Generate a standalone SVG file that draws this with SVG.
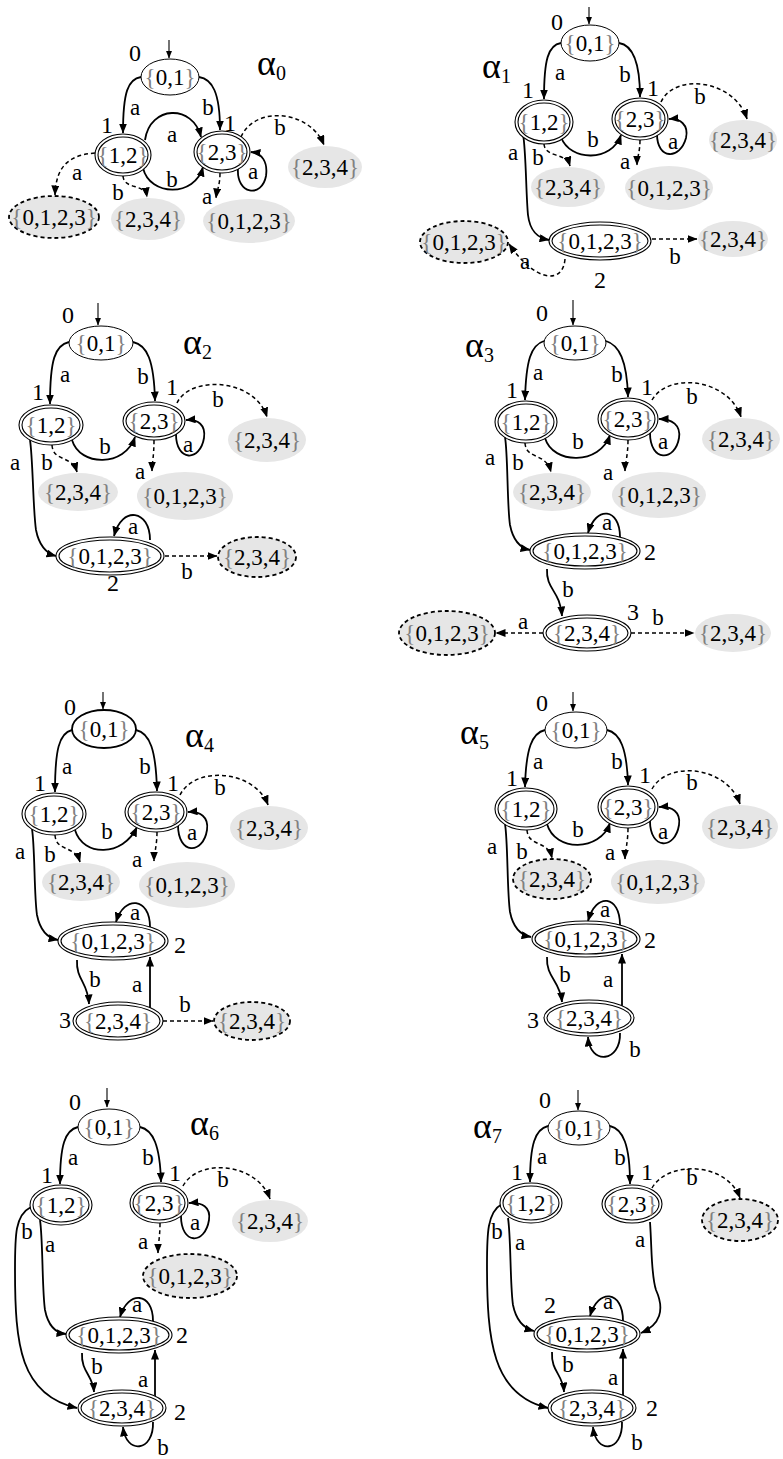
<svg xmlns="http://www.w3.org/2000/svg" width="783" height="1459" viewBox="0 0 783 1459">
<defs>
<marker id="ah" viewBox="0 0 10 8" refX="9.5" refY="4" markerWidth="10" markerHeight="8" orient="auto" markerUnits="userSpaceOnUse"><path d="M0,0 L10,4 L0,8 z" fill="#000"/></marker>
<marker id="sh" viewBox="0 0 10 8" refX="9.5" refY="4" markerWidth="8" markerHeight="6" orient="auto" markerUnits="userSpaceOnUse"><path d="M0,0 L10,4 L0,8 z" fill="#000"/></marker>
</defs>
<style>
.s{fill:#fff;stroke:#000;stroke-width:1}
.o{fill:#fff;stroke:#000;stroke-width:1.1}
.i{fill:none;stroke:#000;stroke-width:1.1}
.g{fill:#e6e6e6}
.gd{fill:#e6e6e6;stroke:#000;stroke-width:1.8;stroke-dasharray:4 3}
.e{fill:none;stroke:#000;stroke-width:1.8;marker-end:url(#ah)}
.st{fill:none;stroke:#000;stroke-width:1.1;marker-end:url(#sh)}
.d{fill:none;stroke:#000;stroke-width:1.5;stroke-dasharray:4 3;marker-end:url(#ah)}
text{font-family:"Liberation Serif","Times New Roman",serif;font-size:23px;text-anchor:middle;fill:#000}
.nl{font-size:23px}
.num{font-size:24px}
.br{fill:#808080}
.al{font-size:36px;text-anchor:start}
.sub{font-size:20px}
</style>
<rect width="783" height="1459" fill="#fff"/>

<!-- ===== alpha0 ===== -->
<g id="p0">
<g id="p0-edges">
<path class="st" d="M169,40 L169,58"/>
<path class="e" d="M141,77 C128,79 123,92 123,133"/>
<path class="e" d="M199,77 C212,79 220,92 220,130"/>
<path class="e" d="M145,140 C150,105 193,104 201,137"/>
<path class="e" d="M143,168 C150,197 195,197 203,167"/>
<path class="e" d="M238,168 C236,195 262,198 266,176 C268,162 262,153 251,152"/>
<path class="d" d="M241,137 C255,105 310,110 324,145"/>
<path class="d" d="M95,153 C70,155 56,165 55,195"/>
<path class="d" d="M123,176 C124,190 145,183 147,197"/>
<path class="d" d="M220,173 C220,185 217,190 216,198"/>
<text x="135" y="115">a</text><text x="208" y="115">b</text>
<text x="172" y="142">a</text><text x="172" y="187">b</text>
<text x="253" y="179">a</text><text x="280" y="135">b</text>
<text x="77" y="180">a</text><text x="118" y="200">b</text><text x="207" y="204">a</text>
</g>
<text class="num" x="135" y="61">0</text><text class="num" x="107" y="133">1</text><text class="num" x="230" y="131">1</text>
<text class="al" x="257" y="75">α<tspan class="sub" dy="5">0</tspan></text>
<g id="p0-n01"><ellipse class="s" cx="170" cy="77" rx="29" ry="18"/><text class="nl" x="170" y="85"><tspan class="br">{</tspan>0,1<tspan class="br">}</tspan></text></g>
<g id="p0-n12"><ellipse class="o" cx="123" cy="155" rx="28" ry="21"/><ellipse class="i" cx="123" cy="155" rx="25" ry="18"/><text class="nl" x="123" y="163"><tspan class="br">{</tspan>1,2<tspan class="br">}</tspan></text></g>
<g id="p0-n23"><ellipse class="o" cx="222" cy="152" rx="28" ry="21"/><ellipse class="i" cx="222" cy="152" rx="25" ry="18"/><text class="nl" x="222" y="160"><tspan class="br">{</tspan>2,3<tspan class="br">}</tspan></text></g>
<g id="p0-g234a"><ellipse class="g" cx="325" cy="167" rx="37" ry="21"/><text class="nl" x="325" y="175"><tspan class="br">{</tspan>2,3,4<tspan class="br">}</tspan></text></g>
<g id="p0-d0123"><ellipse class="gd" cx="54" cy="217" rx="45" ry="21"/><text class="nl" x="54" y="225"><tspan class="br">{</tspan>0,1,2,3<tspan class="br">}</tspan></text></g>
<g id="p0-g234b"><ellipse class="g" cx="148" cy="219" rx="37" ry="21"/><text class="nl" x="148" y="227"><tspan class="br">{</tspan>2,3,4<tspan class="br">}</tspan></text></g>
<g id="p0-g0123"><ellipse class="g" cx="249" cy="221" rx="46" ry="22"/><text class="nl" x="249" y="229"><tspan class="br">{</tspan>0,1,2,3<tspan class="br">}</tspan></text></g>
</g>

<!-- ===== alpha1 ===== -->
<g id="p1">
<g id="p1-edges">
<path class="st" d="M589,7 L589,24"/>
<path class="e" d="M561,43 C548,45 544,60 544,99"/>
<path class="e" d="M619,43 C632,45 640,60 640,97"/>
<path class="e" d="M561,137 C570,162 612,162 621,135"/>
<path class="e" d="M657,134 C657,160 680,160 686,138 C689,125 680,118 669,119"/>
<path class="d" d="M661,102 C675,72 735,80 747,119"/>
<path class="d" d="M544,144 C545,158 566,152 570,166"/>
<path class="d" d="M640,140 C640,152 637,158 637,165"/>
<path class="e" d="M523,134 C526,150 526,195 528,215 C530,232 538,238 549,240"/>
<path class="d" d="M652,239 L697,239"/>
<path class="d" d="M565,259 C563,285 535,282 509,244"/>
<text x="560" y="80">a</text><text x="625" y="82">b</text>
<text x="593" y="147">b</text><text x="673" y="149">a</text><text x="700" y="104">b</text>
<text x="538" y="165">b</text><text x="625" y="169">a</text><text x="513" y="160">a</text>
<text x="675" y="264">b</text><text x="525" y="269">a</text>
</g>
<text class="num" x="557" y="30">0</text><text class="num" x="528" y="98">1</text><text class="num" x="653" y="96">1</text><text class="num" x="600" y="288">2</text>
<text class="al" x="482" y="78">α<tspan class="sub" dy="5">1</tspan></text>
<g id="p1-n01"><ellipse class="s" cx="590" cy="43" rx="29" ry="18"/><text class="nl" x="590" y="51"><tspan class="br">{</tspan>0,1<tspan class="br">}</tspan></text></g>
<g id="p1-n12"><ellipse class="o" cx="544" cy="122" rx="29" ry="22"/><ellipse class="i" cx="544" cy="122" rx="26" ry="19"/><text class="nl" x="544" y="130"><tspan class="br">{</tspan>1,2<tspan class="br">}</tspan></text></g>
<g id="p1-n23"><ellipse class="o" cx="640" cy="119" rx="28" ry="21"/><ellipse class="i" cx="640" cy="119" rx="25" ry="18"/><text class="nl" x="640" y="127"><tspan class="br">{</tspan>2,3<tspan class="br">}</tspan></text></g>
<g id="p1-g234r"><ellipse class="g" cx="743" cy="140" rx="34" ry="20"/><text class="nl" x="743" y="148"><tspan class="br">{</tspan>2,3,4<tspan class="br">}</tspan></text></g>
<g id="p1-g234b"><ellipse class="g" cx="568" cy="187" rx="37" ry="20"/><text class="nl" x="568" y="195"><tspan class="br">{</tspan>2,3,4<tspan class="br">}</tspan></text></g>
<g id="p1-g0123"><ellipse class="g" cx="669" cy="188" rx="44" ry="22"/><text class="nl" x="669" y="196"><tspan class="br">{</tspan>0,1,2,3<tspan class="br">}</tspan></text></g>
<g id="p1-n0123"><ellipse class="o" cx="600" cy="241" rx="51" ry="19"/><ellipse class="i" cx="600" cy="241" rx="48" ry="16"/><text class="nl" x="600" y="249"><tspan class="br">{</tspan>0,1,2,3<tspan class="br">}</tspan></text></g>
<g id="p1-g234c"><ellipse class="g" cx="733" cy="239" rx="35" ry="18"/><text class="nl" x="733" y="247"><tspan class="br">{</tspan>2,3,4<tspan class="br">}</tspan></text></g>
<g id="p1-d0123"><ellipse class="gd" cx="464" cy="242" rx="44" ry="21"/><text class="nl" x="464" y="250"><tspan class="br">{</tspan>0,1,2,3<tspan class="br">}</tspan></text></g>
</g>

<!-- ===== alpha2 ===== -->
<g id="p2">
<g id="p2-edges">
<path class="st" d="M98,303 L98,325"/>
<path class="e" d="M69,342 C55,345 50,360 50,404"/>
<path class="e" d="M133,342 C147,345 154,360 155,401"/>
<path class="e" d="M72,440 C80,467 125,467 135,437"/>
<path class="e" d="M176,434 C176,462 200,462 204,438 C206,425 198,419 186,420"/>
<path class="d" d="M177,403 C190,375 255,378 267,417"/>
<path class="d" d="M52,445 C53,462 72,455 77,472"/>
<path class="d" d="M154,440 C154,455 152,465 152,471"/>
<path class="e" d="M30,440 C33,460 33,510 36,530 C39,545 45,553 56,556"/>
<path class="e" d="M150,540 C150,510 122,505 114,536"/>
<path class="d" d="M165,556 L217,556"/>
<text x="65" y="382">a</text><text x="143" y="384">b</text>
<text x="105" y="454">b</text><text x="188" y="452">a</text><text x="218" y="407">b</text>
<text x="47" y="470">b</text><text x="140" y="479">a</text><text x="15" y="470">a</text>
<text x="133" y="534">a</text><text x="187" y="579">b</text>
</g>
<text class="num" x="68" y="323">0</text><text class="num" x="38" y="400">1</text><text class="num" x="172" y="395">1</text><text class="num" x="113" y="591">2</text>
<text class="al" x="183" y="354">α<tspan class="sub" dy="5">2</tspan></text>
<g id="p2-n01"><ellipse class="s" cx="101" cy="343" rx="32" ry="17"/><text class="nl" x="101" y="351"><tspan class="br">{</tspan>0,1<tspan class="br">}</tspan></text></g>
<g id="p2-n12"><ellipse class="o" cx="51" cy="425" rx="32" ry="20"/><ellipse class="i" cx="51" cy="425" rx="29" ry="17"/><text class="nl" x="51" y="433"><tspan class="br">{</tspan>1,2<tspan class="br">}</tspan></text></g>
<g id="p2-n23"><ellipse class="o" cx="154" cy="421" rx="31" ry="19"/><ellipse class="i" cx="154" cy="421" rx="28" ry="16"/><text class="nl" x="154" y="429"><tspan class="br">{</tspan>2,3<tspan class="br">}</tspan></text></g>
<g id="p2-g234r"><ellipse class="g" cx="267" cy="440" rx="39" ry="22"/><text class="nl" x="267" y="448"><tspan class="br">{</tspan>2,3,4<tspan class="br">}</tspan></text></g>
<g id="p2-g234b"><ellipse class="g" cx="78" cy="492" rx="40" ry="19"/><text class="nl" x="78" y="500"><tspan class="br">{</tspan>2,3,4<tspan class="br">}</tspan></text></g>
<g id="p2-g0123"><ellipse class="g" cx="185" cy="496" rx="48" ry="24"/><text class="nl" x="185" y="504"><tspan class="br">{</tspan>0,1,2,3<tspan class="br">}</tspan></text></g>
<g id="p2-n0123"><ellipse class="o" cx="110" cy="556" rx="54" ry="19"/><ellipse class="i" cx="110" cy="556" rx="51" ry="16"/><text class="nl" x="110" y="564"><tspan class="br">{</tspan>0,1,2,3<tspan class="br">}</tspan></text></g>
<g id="p2-d234"><ellipse class="gd" cx="257" cy="557" rx="39" ry="20"/><text class="nl" x="257" y="565"><tspan class="br">{</tspan>2,3,4<tspan class="br">}</tspan></text></g>
</g>

<!-- ===== alpha3 ===== -->
<g id="p3">
<g id="p3-edges">
<path class="st" d="M573,300 L573,325"/>
<path class="e" d="M544,341 C531,345 526,360 525,400"/>
<path class="e" d="M606,341 C619,345 627,360 628,397"/>
<path class="e" d="M545,438 C553,465 600,465 610,435"/>
<path class="e" d="M650,433 C650,462 675,462 679,438 C681,425 672,419 659,419"/>
<path class="d" d="M652,400 C668,372 728,378 741,417"/>
<path class="d" d="M525,443 C526,460 546,452 551,472"/>
<path class="d" d="M628,440 C628,455 625,465 625,471"/>
<path class="e" d="M505,437 C508,455 507,505 510,525 C513,540 520,548 530,550"/>
<path class="e" d="M620,537 C620,508 596,505 588,533"/>
<path class="e" d="M547,569 C546,590 560,590 562,616"/>
<path class="d" d="M543,633 L496,633"/>
<path class="d" d="M631,633 L694,633"/>
<text x="538" y="380">a</text><text x="617" y="382">b</text>
<text x="578" y="449">b</text><text x="663" y="449">a</text><text x="692" y="404">b</text>
<text x="518" y="470">b</text><text x="608" y="480">a</text><text x="490" y="465">a</text>
<text x="607" y="530">a</text><text x="568" y="597">b</text>
<text x="523" y="629">a</text><text x="658" y="625">b</text>
</g>
<text class="num" x="542" y="321">0</text><text class="num" x="512" y="398">1</text><text class="num" x="647" y="395">1</text><text class="num" x="650" y="560">2</text><text class="num" x="633" y="620">3</text>
<text class="al" x="465" y="357">α<tspan class="sub" dy="5">3</tspan></text>
<g id="p3-n01"><ellipse class="s" cx="575" cy="343" rx="31" ry="17"/><text class="nl" x="575" y="351"><tspan class="br">{</tspan>0,1<tspan class="br">}</tspan></text></g>
<g id="p3-n12"><ellipse class="o" cx="526" cy="422" rx="31" ry="21"/><ellipse class="i" cx="526" cy="422" rx="28" ry="18"/><text class="nl" x="526" y="430"><tspan class="br">{</tspan>1,2<tspan class="br">}</tspan></text></g>
<g id="p3-n23"><ellipse class="o" cx="628" cy="419" rx="30" ry="21"/><ellipse class="i" cx="628" cy="419" rx="27" ry="18"/><text class="nl" x="628" y="427"><tspan class="br">{</tspan>2,3<tspan class="br">}</tspan></text></g>
<g id="p3-g234r"><ellipse class="g" cx="741" cy="439" rx="39" ry="21"/><text class="nl" x="741" y="447"><tspan class="br">{</tspan>2,3,4<tspan class="br">}</tspan></text></g>
<g id="p3-g234b"><ellipse class="g" cx="552" cy="492" rx="39" ry="19"/><text class="nl" x="552" y="500"><tspan class="br">{</tspan>2,3,4<tspan class="br">}</tspan></text></g>
<g id="p3-g0123"><ellipse class="g" cx="659" cy="495" rx="47" ry="23"/><text class="nl" x="659" y="503"><tspan class="br">{</tspan>0,1,2,3<tspan class="br">}</tspan></text></g>
<g id="p3-n0123"><ellipse class="o" cx="585" cy="551" rx="55" ry="18"/><ellipse class="i" cx="585" cy="551" rx="52" ry="15"/><text class="nl" x="585" y="559"><tspan class="br">{</tspan>0,1,2,3<tspan class="br">}</tspan></text></g>
<g id="p3-n234"><ellipse class="o" cx="587" cy="633" rx="44" ry="18"/><ellipse class="i" cx="587" cy="633" rx="41" ry="15"/><text class="nl" x="587" y="641"><tspan class="br">{</tspan>2,3,4<tspan class="br">}</tspan></text></g>
<g id="p3-d0123"><ellipse class="gd" cx="447" cy="633" rx="48" ry="22"/><text class="nl" x="447" y="641"><tspan class="br">{</tspan>0,1,2,3<tspan class="br">}</tspan></text></g>
<g id="p3-g234c"><ellipse class="g" cx="733" cy="633" rx="38" ry="19"/><text class="nl" x="733" y="641"><tspan class="br">{</tspan>2,3,4<tspan class="br">}</tspan></text></g>
</g>

<!-- ===== alpha4 ===== -->
<g id="p4">
<g id="p4-edges">
<path class="st" d="M103,692 L103,709"/>
<path class="e" d="M72,730 C59,733 55,750 55,792"/>
<path class="e" d="M136,730 C150,733 156,750 157,791"/>
<path class="e" d="M75,830 C83,857 123,857 137,827"/>
<path class="e" d="M178,825 C178,855 203,855 207,830 C209,817 200,811 188,812"/>
<path class="d" d="M180,795 C195,765 255,770 268,805"/>
<path class="d" d="M55,835 C56,852 75,845 80,862"/>
<path class="d" d="M157,832 C157,845 154,855 154,861"/>
<path class="e" d="M32,829 C35,848 34,895 37,915 C40,930 47,938 58,940"/>
<path class="e" d="M150,927 C150,897 124,895 116,922"/>
<path class="e" d="M77,960 C76,980 88,982 89,1004"/>
<path class="e" d="M150,1008 L150,957"/>
<path class="d" d="M163,1021 L213,1021"/>
<text x="67" y="774">a</text><text x="145" y="774">b</text>
<text x="107" y="839">b</text><text x="192" y="840">a</text><text x="220" y="795">b</text>
<text x="50" y="862">b</text><text x="137" y="867">a</text><text x="20" y="859">a</text>
<text x="135" y="920">a</text><text x="95" y="987">b</text><text x="137" y="992">a</text><text x="185" y="1012">b</text>
</g>
<text class="num" x="70" y="715">0</text><text class="num" x="40" y="791">1</text><text class="num" x="173" y="791">1</text><text class="num" x="180" y="953">2</text><text class="num" x="65" y="1028">3</text>
<text class="al" x="185" y="747">α<tspan class="sub" dy="5">4</tspan></text>
<g id="p4-n01"><ellipse class="s" cx="104" cy="729" rx="32" ry="19" style="stroke-width:1.8"/><text class="nl" x="104" y="737"><tspan class="br">{</tspan>0,1<tspan class="br">}</tspan></text></g>
<g id="p4-n12"><ellipse class="o" cx="54" cy="814" rx="32" ry="21"/><ellipse class="i" cx="54" cy="814" rx="29" ry="18"/><text class="nl" x="54" y="822"><tspan class="br">{</tspan>1,2<tspan class="br">}</tspan></text></g>
<g id="p4-n23"><ellipse class="o" cx="156" cy="812" rx="31" ry="20"/><ellipse class="i" cx="156" cy="812" rx="28" ry="17"/><text class="nl" x="156" y="820"><tspan class="br">{</tspan>2,3<tspan class="br">}</tspan></text></g>
<g id="p4-g234r"><ellipse class="g" cx="269" cy="828" rx="39" ry="22"/><text class="nl" x="269" y="836"><tspan class="br">{</tspan>2,3,4<tspan class="br">}</tspan></text></g>
<g id="p4-g234b"><ellipse class="g" cx="81" cy="882" rx="39" ry="19"/><text class="nl" x="81" y="890"><tspan class="br">{</tspan>2,3,4<tspan class="br">}</tspan></text></g>
<g id="p4-g0123"><ellipse class="g" cx="187" cy="885" rx="48" ry="23"/><text class="nl" x="187" y="893"><tspan class="br">{</tspan>0,1,2,3<tspan class="br">}</tspan></text></g>
<g id="p4-n0123"><ellipse class="o" cx="113" cy="941" rx="55" ry="19"/><ellipse class="i" cx="113" cy="941" rx="52" ry="16"/><text class="nl" x="113" y="949"><tspan class="br">{</tspan>0,1,2,3<tspan class="br">}</tspan></text></g>
<g id="p4-n234"><ellipse class="o" cx="118" cy="1021" rx="45" ry="19"/><ellipse class="i" cx="118" cy="1021" rx="42" ry="16"/><text class="nl" x="118" y="1029"><tspan class="br">{</tspan>2,3,4<tspan class="br">}</tspan></text></g>
<g id="p4-d234"><ellipse class="gd" cx="252" cy="1021" rx="38" ry="19"/><text class="nl" x="252" y="1029"><tspan class="br">{</tspan>2,3,4<tspan class="br">}</tspan></text></g>
</g>

<!-- ===== alpha5 ===== -->
<g id="p5">
<g id="p5-edges">
<path class="st" d="M573,692 L573,711"/>
<path class="e" d="M545,730 C532,733 526,748 525,787"/>
<path class="e" d="M607,730 C620,733 627,748 628,785"/>
<path class="e" d="M547,824 C555,852 600,852 610,823"/>
<path class="e" d="M650,821 C650,850 675,850 679,825 C681,812 672,806 659,807"/>
<path class="d" d="M652,789 C668,760 727,766 740,804"/>
<path class="d" d="M527,830 C528,847 548,840 552,858"/>
<path class="d" d="M628,828 C628,842 625,852 625,859"/>
<path class="e" d="M505,824 C508,842 507,892 510,912 C513,927 520,935 531,937"/>
<path class="e" d="M620,925 C620,895 596,892 588,921"/>
<path class="e" d="M547,957 C546,978 560,980 562,1002"/>
<path class="e" d="M622,1006 L622,954"/>
<path class="e" d="M620,1033 C621,1062 590,1066 588,1037"/>
<text x="538" y="769">a</text><text x="617" y="769">b</text>
<text x="578" y="837">b</text><text x="663" y="839">a</text><text x="692" y="790">b</text>
<text x="522" y="859">b</text><text x="610" y="860">a</text><text x="492" y="854">a</text>
<text x="605" y="917">a</text><text x="565" y="982">b</text><text x="608" y="987">a</text><text x="635" y="1057">b</text>
</g>
<text class="num" x="542" y="711">0</text><text class="num" x="512" y="786">1</text><text class="num" x="645" y="783">1</text><text class="num" x="650" y="948">2</text><text class="num" x="533" y="1028">3</text>
<text class="al" x="460" y="744">α<tspan class="sub" dy="5">5</tspan></text>
<g id="p5-n01"><ellipse class="s" cx="576" cy="730" rx="31" ry="18"/><text class="nl" x="576" y="738"><tspan class="br">{</tspan>0,1<tspan class="br">}</tspan></text></g>
<g id="p5-n12"><ellipse class="o" cx="526" cy="809" rx="31" ry="21"/><ellipse class="i" cx="526" cy="809" rx="28" ry="18"/><text class="nl" x="526" y="817"><tspan class="br">{</tspan>1,2<tspan class="br">}</tspan></text></g>
<g id="p5-n23"><ellipse class="o" cx="628" cy="807" rx="30" ry="21"/><ellipse class="i" cx="628" cy="807" rx="27" ry="18"/><text class="nl" x="628" y="815"><tspan class="br">{</tspan>2,3<tspan class="br">}</tspan></text></g>
<g id="p5-g234r"><ellipse class="g" cx="740" cy="827" rx="38" ry="22"/><text class="nl" x="740" y="835"><tspan class="br">{</tspan>2,3,4<tspan class="br">}</tspan></text></g>
<g id="p5-d234"><ellipse class="gd" cx="552" cy="879" rx="39" ry="20"/><text class="nl" x="552" y="887"><tspan class="br">{</tspan>2,3,4<tspan class="br">}</tspan></text></g>
<g id="p5-g0123"><ellipse class="g" cx="658" cy="882" rx="47" ry="22"/><text class="nl" x="658" y="890"><tspan class="br">{</tspan>0,1,2,3<tspan class="br">}</tspan></text></g>
<g id="p5-n0123"><ellipse class="o" cx="586" cy="939" rx="54" ry="18"/><ellipse class="i" cx="586" cy="939" rx="51" ry="15"/><text class="nl" x="586" y="947"><tspan class="br">{</tspan>0,1,2,3<tspan class="br">}</tspan></text></g>
<g id="p5-n234"><ellipse class="o" cx="589" cy="1018" rx="45" ry="18"/><ellipse class="i" cx="589" cy="1018" rx="42" ry="15"/><text class="nl" x="589" y="1026"><tspan class="br">{</tspan>2,3,4<tspan class="br">}</tspan></text></g>
</g>

<!-- ===== alpha6 ===== -->
<g id="p6">
<g id="p6-edges">
<path class="st" d="M107,1088 L107,1107"/>
<path class="e" d="M78,1127 C65,1130 60,1145 60,1184"/>
<path class="e" d="M140,1127 C153,1130 160,1145 161,1182"/>
<path class="e" d="M181,1216 C181,1245 205,1245 209,1220 C211,1207 202,1202 189,1203"/>
<path class="d" d="M183,1186 C198,1158 257,1162 270,1199"/>
<path class="d" d="M160,1223 C160,1237 158,1245 158,1253"/>
<path class="e" d="M40,1220 C43,1240 42,1290 45,1310 C48,1325 55,1333 66,1334"/>
<path class="e" d="M31,1207 C15,1215 15,1235 15,1270 C15,1345 20,1395 77,1408"/>
<path class="e" d="M153,1321 C153,1292 128,1290 120,1317"/>
<path class="e" d="M82,1353 C81,1372 93,1375 94,1392"/>
<path class="e" d="M155,1396 L155,1350"/>
<path class="e" d="M153,1422 C154,1452 126,1455 123,1427"/>
<text x="73" y="1165">a</text><text x="148" y="1165">b</text>
<text x="195" y="1230">a</text><text x="223" y="1187">b</text><text x="143" y="1249">a</text>
<text x="50" y="1252">a</text><text x="27" y="1239">b</text>
<text x="137" y="1312">a</text><text x="97" y="1374">b</text><text x="143" y="1387">a</text><text x="163" y="1455">b</text>
</g>
<text class="num" x="75" y="1110">0</text><text class="num" x="47" y="1183">1</text><text class="num" x="175" y="1181">1</text><text class="num" x="182" y="1343">2</text><text class="num" x="180" y="1420">2</text>
<text class="al" x="190" y="1135">α<tspan class="sub" dy="5">6</tspan></text>
<g id="p6-n01"><ellipse class="s" cx="109" cy="1127" rx="31" ry="18"/><text class="nl" x="109" y="1135"><tspan class="br">{</tspan>0,1<tspan class="br">}</tspan></text></g>
<g id="p6-n12"><ellipse class="o" cx="61" cy="1205" rx="31" ry="20"/><ellipse class="i" cx="61" cy="1205" rx="28" ry="17"/><text class="nl" x="61" y="1213"><tspan class="br">{</tspan>1,2<tspan class="br">}</tspan></text></g>
<g id="p6-n23"><ellipse class="o" cx="159" cy="1203" rx="29" ry="20"/><ellipse class="i" cx="159" cy="1203" rx="26" ry="17"/><text class="nl" x="159" y="1211"><tspan class="br">{</tspan>2,3<tspan class="br">}</tspan></text></g>
<g id="p6-g234r"><ellipse class="g" cx="270" cy="1221" rx="38" ry="21"/><text class="nl" x="270" y="1229"><tspan class="br">{</tspan>2,3,4<tspan class="br">}</tspan></text></g>
<g id="p6-d0123"><ellipse class="gd" cx="190" cy="1276" rx="47" ry="22"/><text class="nl" x="190" y="1284"><tspan class="br">{</tspan>0,1,2,3<tspan class="br">}</tspan></text></g>
<g id="p6-n0123"><ellipse class="o" cx="119" cy="1335" rx="53" ry="18"/><ellipse class="i" cx="119" cy="1335" rx="50" ry="15"/><text class="nl" x="119" y="1343"><tspan class="br">{</tspan>0,1,2,3<tspan class="br">}</tspan></text></g>
<g id="p6-n234"><ellipse class="o" cx="122" cy="1408" rx="44" ry="18"/><ellipse class="i" cx="122" cy="1408" rx="41" ry="15"/><text class="nl" x="122" y="1416"><tspan class="br">{</tspan>2,3,4<tspan class="br">}</tspan></text></g>
</g>

<!-- ===== alpha7 ===== -->
<g id="p7">
<g id="p7-edges">
<path class="st" d="M578,1090 L578,1110"/>
<path class="e" d="M548,1126 C535,1129 530,1145 530,1182"/>
<path class="e" d="M610,1126 C623,1129 630,1145 630,1184"/>
<path class="d" d="M652,1188 C668,1160 727,1162 740,1198"/>
<path class="e" d="M650,1222 C652,1250 651,1275 656,1290 C665,1310 660,1325 641,1333"/>
<path class="e" d="M508,1218 C511,1237 510,1285 513,1305 C516,1320 523,1328 534,1331"/>
<path class="e" d="M502,1204 C487,1212 487,1235 487,1265 C487,1340 492,1395 548,1408"/>
<path class="e" d="M623,1321 C623,1290 598,1288 590,1316"/>
<path class="e" d="M552,1352 C551,1372 563,1374 564,1392"/>
<path class="e" d="M623,1396 L623,1349"/>
<path class="e" d="M622,1422 C623,1452 596,1455 593,1427"/>
<text x="542" y="1164">a</text><text x="620" y="1165">b</text><text x="692" y="1185">b</text>
<text x="640" y="1247">a</text><text x="520" y="1250">a</text><text x="497" y="1239">b</text>
<text x="608" y="1309">a</text><text x="568" y="1372">b</text><text x="613" y="1385">a</text><text x="637" y="1450">b</text>
</g>
<text class="num" x="545" y="1108">0</text><text class="num" x="517" y="1180">1</text><text class="num" x="647" y="1180">1</text><text class="num" x="550" y="1313">2</text><text class="num" x="652" y="1416">2</text>
<text class="al" x="473" y="1138">α<tspan class="sub" dy="5">7</tspan></text>
<g id="p7-n01"><ellipse class="s" cx="579" cy="1128" rx="31" ry="17"/><text class="nl" x="579" y="1136"><tspan class="br">{</tspan>0,1<tspan class="br">}</tspan></text></g>
<g id="p7-n12"><ellipse class="o" cx="531" cy="1203" rx="31" ry="20"/><ellipse class="i" cx="531" cy="1203" rx="28" ry="17"/><text class="nl" x="531" y="1211"><tspan class="br">{</tspan>1,2<tspan class="br">}</tspan></text></g>
<g id="p7-n23"><ellipse class="o" cx="632" cy="1204" rx="30" ry="19"/><ellipse class="i" cx="632" cy="1204" rx="27" ry="16"/><text class="nl" x="632" y="1212"><tspan class="br">{</tspan>2,3<tspan class="br">}</tspan></text></g>
<g id="p7-d234"><ellipse class="gd" cx="740" cy="1220" rx="38" ry="21"/><text class="nl" x="740" y="1228"><tspan class="br">{</tspan>2,3,4<tspan class="br">}</tspan></text></g>
<g id="p7-n0123"><ellipse class="o" cx="587" cy="1334" rx="53" ry="18"/><ellipse class="i" cx="587" cy="1334" rx="50" ry="15"/><text class="nl" x="587" y="1342"><tspan class="br">{</tspan>0,1,2,3<tspan class="br">}</tspan></text></g>
<g id="p7-n234"><ellipse class="o" cx="592" cy="1408" rx="44" ry="18"/><ellipse class="i" cx="592" cy="1408" rx="41" ry="15"/><text class="nl" x="592" y="1416"><tspan class="br">{</tspan>2,3,4<tspan class="br">}</tspan></text></g>
</g>
</svg>
